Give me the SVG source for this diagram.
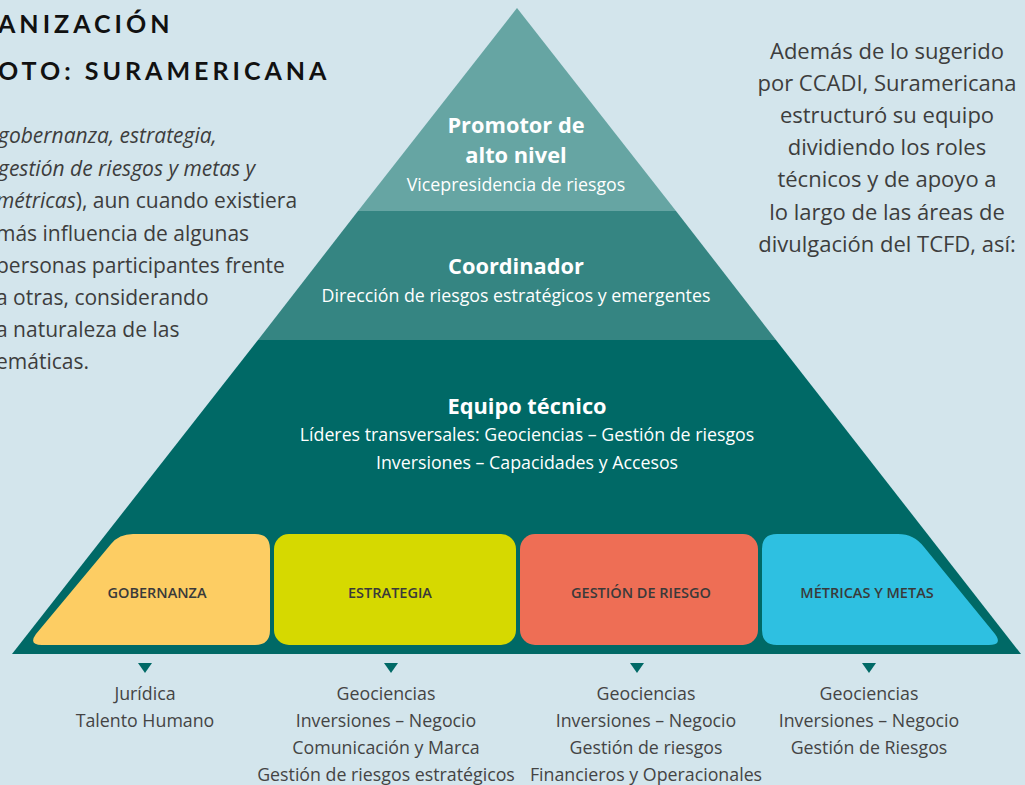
<svg xmlns="http://www.w3.org/2000/svg" width="1025" height="785" viewBox="0 0 1025 785">
<style>
.bg{fill:#d3e5ec}
.title{font-family:Lato,"Liberation Sans",sans-serif;font-weight:700;font-size:25px;letter-spacing:4px;fill:#111}
.para{font-family:"Open Sans","Liberation Sans",sans-serif;font-size:21px;fill:#3d3d3d}
.rp{font-size:22px}
.it{font-style:italic}
.tier{font-family:"Open Sans","Liberation Sans",sans-serif;font-weight:700;font-size:21.8px;fill:#fff;text-anchor:middle}
.sub{font-family:"Open Sans","Liberation Sans",sans-serif;font-size:17.8px;fill:#fff;text-anchor:middle}
.box{font-family:"Open Sans","Liberation Sans",sans-serif;font-weight:600;font-size:14.5px;fill:#3a3a3a;text-anchor:middle}
.lst{font-family:"Open Sans","Liberation Sans",sans-serif;font-size:17.8px;fill:#444;text-anchor:middle}
.arr{fill:#006966}
</style>
<rect class="bg" x="0" y="0" width="1025" height="785"/>
<g id="title">
<text class="title" x="-2" y="33">ANIZACIÓN</text>
<text class="title" x="-2" y="80">OTO: SURAMERICANA</text>
</g>
<g id="left-text" class="para">
<text x="-2" y="143"><tspan class="it">gobernanza, estrategia,</tspan></text>
<text x="-2" y="176"><tspan class="it">gestión de riesgos y metas y</tspan></text>
<text x="-4" y="208"><tspan class="it">métricas</tspan>), aun cuando existiera</text>
<text x="-4" y="241">más influencia de algunas</text>
<text x="-4" y="273">personas participantes frente</text>
<text x="-4" y="305">a otras, considerando</text>
<text x="-4" y="337">a naturaleza de las</text>
<text x="-4" y="369">emáticas.</text>
</g>
<g id="right-text" class="para rp" text-anchor="middle">
<text x="887" y="59">Además de lo sugerido</text>
<text x="887" y="91">por CCADI, Suramericana</text>
<text x="887" y="123">estructuró su equipo</text>
<text x="887" y="155">dividiendo los roles</text>
<text x="887" y="187">técnicos y de apoyo a</text>
<text x="887" y="220">lo largo de las áreas de</text>
<text x="887" y="252">divulgación del TCFD, así:</text>
</g>
<g id="tier-promotor">
<polygon points="517,8 358,211 676,211" fill="#66a5a3"/>
<text class="tier" x="516" y="133">Promotor de</text>
<text class="tier" x="516" y="163">alto nivel</text>
<text class="sub" x="516" y="191">Vicepresidencia de riesgos</text>
</g>
<g id="tier-coordinador">
<polygon points="358,211 676,211 776,340 258,340" fill="#358582"/>
<text class="tier" x="516" y="274">Coordinador</text>
<text class="sub" x="516" y="302">Dirección de riesgos estratégicos y emergentes</text>
</g>
<g id="tier-equipo">
<polygon points="258,340 776,340 1021,654 12,654" fill="#006966"/>
<text class="tier" x="527" y="414">Equipo técnico</text>
<text class="sub" x="527" y="441">Líderes transversales: Geociencias – Gestión de riesgos</text>
<text class="sub" x="527" y="469">Inversiones – Capacidades y Accesos</text>
</g>
<g id="box-gobernanza">
<path d="M133 534 H255 Q270 534 270 549 V630 Q270 645 255 645 H42 Q28 645 36 634 L111 544 Q119 534 133 534 Z" fill="#fdcd63"/>
<text class="box" x="157" y="598">GOBERNANZA</text>
</g>
<g id="box-estrategia">
<rect x="274" y="534" width="242" height="111" rx="15" fill="#d6d900"/>
<text class="box" x="390" y="598">ESTRATEGIA</text>
</g>
<g id="box-gestion">
<rect x="520" y="534" width="238" height="111" rx="15" fill="#ee6e55"/>
<text class="box" x="641" y="598">GESTIÓN DE RIESGO</text>
</g>
<g id="box-metricas">
<path d="M777 534 H898 Q914 534 924 547 L995 634 Q1003 645 989 645 H777 Q762 645 762 630 V549 Q762 534 777 534 Z" fill="#2ec0e1"/>
<text class="box" x="867" y="598">MÉTRICAS Y METAS</text>
</g>
<g id="connectors">
<polygon class="arr" points="138,663 152,663 145,673"/>
<polygon class="arr" points="384,663 398,663 391,673"/>
<polygon class="arr" points="630,663 644,663 637,673"/>
<polygon class="arr" points="862,663 876,663 869,673"/>
</g>
<g id="list-gobernanza" class="lst">
<text x="145" y="700">Jurídica</text>
<text x="145" y="727">Talento Humano</text>
</g>
<g id="list-estrategia" class="lst">
<text x="386" y="700">Geociencias</text>
<text x="386" y="727">Inversiones – Negocio</text>
<text x="386" y="754">Comunicación y Marca</text>
<text x="386" y="781">Gestión de riesgos estratégicos</text>
</g>
<g id="list-gestion" class="lst">
<text x="646" y="700">Geociencias</text>
<text x="646" y="727">Inversiones – Negocio</text>
<text x="646" y="754">Gestión de riesgos</text>
<text x="646" y="781">Financieros y Operacionales</text>
</g>
<g id="list-metricas" class="lst">
<text x="869" y="700">Geociencias</text>
<text x="869" y="727">Inversiones – Negocio</text>
<text x="869" y="754">Gestión de Riesgos</text>
</g>
</svg>
